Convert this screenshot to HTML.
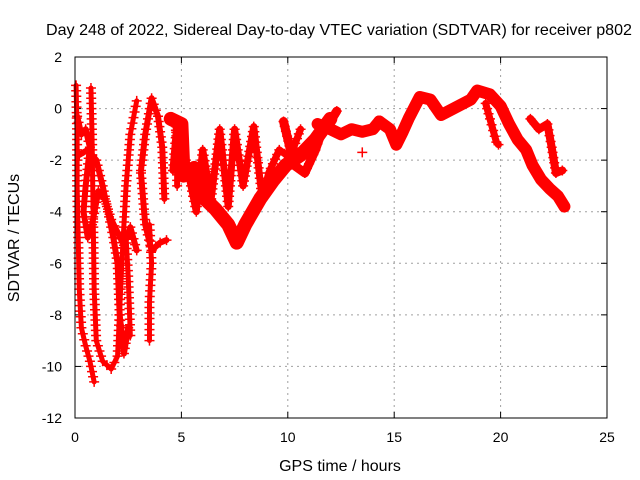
<!DOCTYPE html>
<html><head><meta charset="utf-8"><style>
html,body{margin:0;padding:0;background:#fff;}
svg{display:block;font-family:"Liberation Sans",sans-serif;}
</style></head><body>
<svg id="chart" width="640" height="480">
<text x="339" y="35" text-anchor="middle" font-size="16" textLength="586" lengthAdjust="spacingAndGlyphs">Day 248 of 2022, Sidereal Day-to-day VTEC variation (SDTVAR) for receiver p802</text>
<text x="19" y="238" text-anchor="middle" font-size="16" transform="rotate(-90 19 238)">SDTVAR / TECUs</text>
<text x="340" y="471" text-anchor="middle" font-size="16">GPS time / hours</text>
<g id="grid"></g>
<g id="ticks"></g>
<g id="series"></g>
<rect x="75" y="57" width="532" height="361" fill="none" stroke="#000" stroke-width="1"/>
</svg>
<script>
const xTicks = [0, 5, 10, 15, 20, 25];
const yTicks = [2, 0, -2, -4, -6, -8, -10, -12];
const trackA = [[0.05,0.9],[0.1,-1],[0.1,-3],[0.15,-5],[0.2,-7],[0.3,-8.5],[0.5,-9.2],[0.7,-9.8],[0.9,-10.6]];
const trackA3 = [[0.1,-0.3],[0.3,-1.0],[0.5,-0.8],[0.7,-1.5],[0.5,-3],[0.4,-4],[0.6,-5],[0.8,-4.5],[1.1,-3.2],[1.4,-3.5],[1.7,-4.3],[2.0,-4.8],[2.3,-5.3],[2.6,-4.6],[2.9,-5.5]];
const trackB = [[0.75,0.8],[0.8,-1],[0.85,-4],[0.9,-7],[1.0,-9],[1.3,-9.8],[1.7,-10.1],[2.0,-9.6],[2.2,-6],[2.4,-3],[2.6,-1],[2.9,0.3]];
const trackC = [[0.2,-1.8],[0.6,-1.6],[1.0,-2.0],[1.3,-3.0],[1.6,-4.2],[1.8,-5.0],[2.0,-6],[2.1,-8.0],[2.3,-9.5],[2.5,-8.5]];
const trackC2 = [[2.4,-5],[2.5,-6.5],[2.6,-8.8]];
const trackD1 = [[3.1,-2.4],[3.3,-1.0],[3.6,0.4],[3.9,-0.3],[4.1,-1.5],[4.2,-3.5]];
const trackD2 = [[3.1,-2.5],[3.3,-4.5],[3.6,-5.5],[4.0,-5.2],[4.3,-5.1]];
const trackD3 = [[3.5,-4.5],[3.6,-6],[3.5,-7.5],[3.5,-9]];
const trackE = [[4.7,-0.4],[4.8,-1.5],[4.8,-3.0]];
const trackT1 = [[4.5,-0.4],[5.0,-0.6],[5.1,-2.6],[5.6,-2.3],[6.1,-3.5],[6.6,-3.9],[7.2,-4.5],[7.6,-5.2],[8.0,-4.5],[8.7,-3.5],[9.3,-2.8],[9.9,-2.2],[10.6,-1.8],[11.3,-1.2],[12,-0.4]];
const trackT2 = [[4.6,-2.4],[4.8,-0.5],[5.2,-2.0],[5.7,-4.0],[6.0,-1.6],[6.4,-3.5],[6.8,-0.8],[7.2,-3.8],[7.5,-0.8],[7.9,-3.0],[8.4,-0.7],[8.8,-3.5],[9.1,-2.5],[9.6,-1.6],[10.1,-1.9],[10.6,-0.8]];
const trackT3 = [[9.8,-0.5],[10.3,-2.2],[10.8,-2.5],[11.3,-1.6],[11.6,-0.9],[12.0,-0.5],[12.3,-0.1]];
const trackM = [[11.4,-0.6],[12,-0.8],[12.5,-1.0],[13,-0.8],[13.5,-0.9],[14,-0.8],[14.3,-0.5]];
const trackM2 = [[13.5,-1.7]];
const trackR1 = [[14.3,-0.5],[14.8,-0.8],[15.1,-1.4],[15.4,-0.9],[15.7,-0.35],[16.2,0.45],[16.7,0.35],[17.2,-0.25],[17.9,0.05],[18.6,0.35],[18.9,0.7],[19.5,0.55],[20.0,0.1],[20.4,-0.6],[20.8,-1.2],[21.2,-1.6],[21.5,-2.2],[21.9,-2.75],[22.3,-3.1],[22.7,-3.4],[23.0,-3.8]];
const trackR2 = [[19.3,0.2],[19.5,-0.4],[19.8,-1.3],[19.9,-1.4]];
const trackR3 = [[21.4,-0.4],[21.8,-0.8],[22.2,-0.6],[22.4,-1.5],[22.6,-2.5],[22.9,-2.4]];
const tracks = [trackA,trackA3,trackB,trackC,trackC2,trackD1,trackD2,trackD3,trackE,trackT1,trackT2,trackT3,trackM,trackM2,trackR1,trackR2,trackR3];
const widths = [5,6,5,6,5,6,6,5,6,14,7,9,12,1,12,7,8];

const NS="http://www.w3.org/2000/svg";
const L=75,R=607,T=57,B=418;
function xs(h){return L+(h-0)/(25-0)*(R-L);}
function ys(v){return T+(2-v)/(2-(-12))*(B-T);}
const grid=document.getElementById('grid'), ticks=document.getElementById('ticks'), series=document.getElementById('series');
xTicks.forEach(t=>{
  const x=xs(t);
  if(t>0&&t<25){const g=document.createElementNS(NS,'line');
  g.setAttribute('x1',x);g.setAttribute('x2',x);g.setAttribute('y1',T);g.setAttribute('y2',B);
  g.setAttribute('stroke','#a0a0a0');g.setAttribute('stroke-dasharray','2,4');
  
  
  grid.appendChild(g);}
  const tx=document.createElementNS(NS,'text');
  tx.setAttribute('x',x);tx.setAttribute('y',B+24);tx.setAttribute('text-anchor','middle');tx.setAttribute('font-size','14');
  tx.textContent=t;
  
  
  ticks.appendChild(tx);
  [[B,B-6],[T,T+6]].forEach(p=>{const m=document.createElementNS(NS,'line');m.setAttribute('x1',x);m.setAttribute('x2',x);m.setAttribute('y1',p[0]);m.setAttribute('y2',p[1]);m.setAttribute('stroke','#000');
  
  
  ticks.appendChild(m);});
});
yTicks.forEach(t=>{
  const y=ys(t);
  if(t<2&&t>-12){const g=document.createElementNS(NS,'line');
  g.setAttribute('x1',L);g.setAttribute('x2',R);g.setAttribute('y1',y);g.setAttribute('y2',y);
  g.setAttribute('stroke','#a0a0a0');g.setAttribute('stroke-dasharray','2,4');
  
  
  grid.appendChild(g);}
  const tx=document.createElementNS(NS,'text');
  tx.setAttribute('x',L-13);tx.setAttribute('y',y+5);tx.setAttribute('text-anchor','end');tx.setAttribute('font-size','14');
  tx.textContent=t;
  
  
  ticks.appendChild(tx);
  [[L,L+6],[R,R-6]].forEach(p=>{const m=document.createElementNS(NS,'line');m.setAttribute('y1',y);m.setAttribute('y2',y);m.setAttribute('x1',p[0]);m.setAttribute('x2',p[1]);m.setAttribute('stroke','#000');
  
  
  ticks.appendChild(m);});
});
function plus(x,y){
  const p=document.createElementNS(NS,'path');
  p.setAttribute('d',`M${x-5},${y}H${x+5}M${x},${y-5}V${y+5}`);
  p.setAttribute('stroke','#f00');p.setAttribute('stroke-width','1.5');
  
  
  series.appendChild(p);
}
tracks.forEach((tr,ti)=>{
  const pts=tr.map(d=>[xs(d[0]),ys(d[1])]);
  const pl=document.createElementNS(NS,'polyline');
  pl.setAttribute('points',pts.map(p=>p.join(',')).join(' '));
  pl.setAttribute('fill','none');pl.setAttribute('stroke','#f00');pl.setAttribute('stroke-width',widths[ti]);
  pl.setAttribute('stroke-linejoin','round');pl.setAttribute('stroke-linecap','round');
  
  
  series.appendChild(pl);
  for(let i=0;i<pts.length;i++){
    plus(pts[i][0],pts[i][1]);
    if(i<pts.length-1){
      const dx=pts[i+1][0]-pts[i][0],dy=pts[i+1][1]-pts[i][1];
      const n=Math.floor(Math.hypot(dx,dy)/5);
      for(let k=1;k<n;k++)plus(pts[i][0]+dx*k/n,pts[i][1]+dy*k/n);
    }
  }
});
</script>
</body></html>
